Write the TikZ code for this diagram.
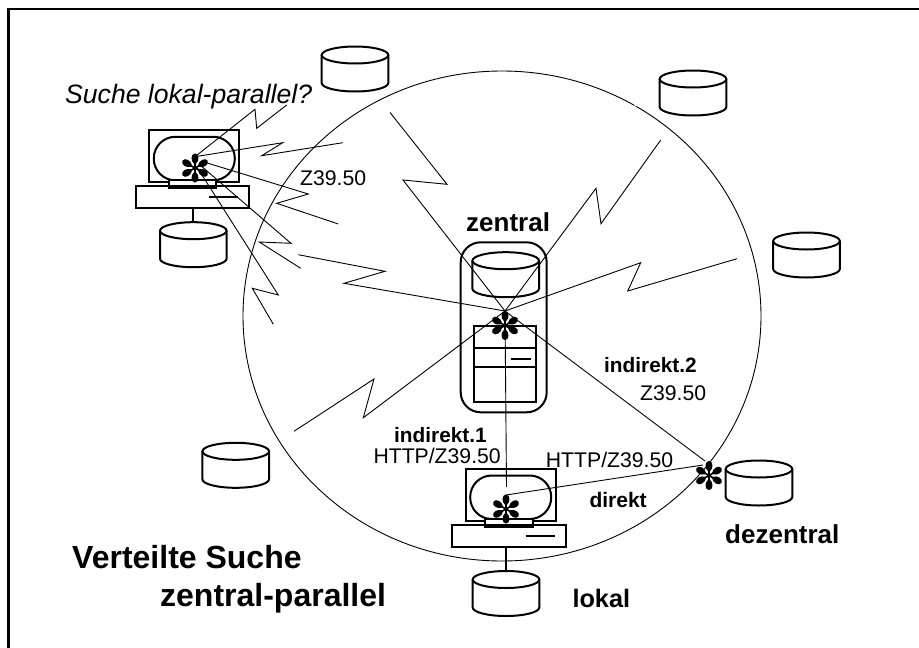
\documentclass[tikz,border=0pt]{standalone}
\usepackage{fontspec}
\setmainfont{Liberation Sans}
\newcommand{\dbcyl}[2]{%
  \draw[thickline] (#1,#2+9) ellipse [x radius=33.3,y radius=8.5];
  \draw[thickline] (#1-33.3,#2+9) -- ++(0,28) arc [start angle=180,end angle=0,x radius=33.3,y radius=8.5] -- (#1+33.3,#2+9);
}
\newcommand{\petalstar}[3]{%
  \coordinate (#1) at (#2,#3);
  \foreach \a in {90,30,-30,-90,-150,150}{
    \fill[black,shift={(#2,#3)},rotate=\a] (0,-0.9) -- (4,-0.8) .. controls (7,-4.4) and (14,-4.6) .. (14.6,0) .. controls (14,4.6) and (7,4.4) .. (4,0.8) -- (0,0.9) -- cycle;
  }
}
\newcommand{\workstation}[2]{%
  \begin{scope}[shift={(#1,#2)}]
    \draw[thickline] (0,0) rectangle (90,52);
    \draw[thickline,rounded corners=21.5] (4.5,6.5) rectangle (85.5,50);
    \draw[thickline,fill=white] (19.5,50) rectangle (67,58);
    \draw[thickline] (-13.5,56) rectangle (100,78);
    \draw[thickline] (60,67) -- (89,67);
  \end{scope}
}
\tikzset{
  thickline/.style={line width=2pt,black},
  thinline/.style={line width=0.9pt,black,line join=miter},
  lbl/.style={anchor=base west,inner sep=0pt,text=black},
  zig/.style={thinline}
}
\begin{document}
\begin{tikzpicture}[x=1pt,y=-1pt]
\useasboundingbox (0,0) rectangle (919,648);
\draw[line width=2.7pt,black] (8.8,648) -- (8.8,9) -- (919,9);

% ring
\draw[thinline] (502,316) ellipse [x radius=259,y radius=245];
\draw[white,line width=1.8pt] (634.5,104.4) -- (636.5,105.8);

% databases
\dbcyl{355}{46}
\dbcyl{693}{70}
\dbcyl{806.5}{232}
\dbcyl{235.7}{442.3}
\dbcyl{759}{460}
\dbcyl{506}{570.5}
\dbcyl{193.3}{221.7}
\dbcyl{505.7}{251.7}

% central server
\draw[thickline,rounded corners=20] (460.7,242.3) rectangle (546.7,412.3);
\draw[thickline] (474,325.7) rectangle (535.7,401.7);
\draw[thickline] (474,348.3) -- (535.7,348.3);
\draw[thickline] (474,366.7) -- (535.7,366.7);
\draw[thickline] (510.7,359) -- (531,359);

% workstations
\workstation{149.3}{130.3}
\draw[thickline] (192.7,208) -- (192.7,222);
\workstation{465.7}{469}
\draw[thickline] (506.3,547) -- (506.3,571);

% stars
\petalstar{starC}{505}{325.5}
\petalstar{starW}{195}{168}
\petalstar{starL}{506}{509}
\petalstar{starD}{709}{475.5}

% anchor points on stars
\coordinate (hub) at (505,311);
\coordinate (hubW) at (195,156.7);
\coordinate (hubWc) at (203,161.7);
\coordinate (hubWd) at (200,165);
\coordinate (hubWe) at (196.7,166.7);
\coordinate (hubL) at (506,495);
\coordinate (hubD) at (703,465);
\coordinate (hubDb) at (705,461);
\coordinate (endV) at (506.5,487);

% central links
\draw[zig] (hub) -- (403,180) -- (447,184.3) -- (390,112.5);
\draw[zig] (hub) -- (596,188.3) -- (601,223.7) -- (660.7,140);
\draw[zig] (hub) -- (640.7,262.7) -- (627.7,291) -- (737,258.7);
\draw[zig] (hub) -- (344,283.3) -- (385,271.3) -- (298.3,254.7);
\draw[zig] (hub) -- (363.3,417.7) -- (374,379) -- (294,431.3);
\draw[zig] (hub) -- (endV);
\draw[zig] (hub) -- (hubDb);
\draw[zig] (hubL) -- (hubD);

% local-parallel links
\draw[zig] (hubW) -- (255,109.3) -- (256.7,128.3) -- (286.7,105);
\draw[zig] (hubW) -- (282.7,142.7) -- (261.7,155.7) -- (342.7,142.7);
\draw[zig] (hubWc) -- (308.3,194) -- (276.7,203.3) -- (338.3,224);
\draw[zig] (hubWd) -- (291,243.3) -- (259.3,242) -- (300.7,268.3);
\draw[zig] (hubWe) -- (278.3,295) -- (252.3,288.3) -- (273.3,324.3);

% labels
\node[lbl,font=\fontsize{26.6}{26.6}\selectfont\itshape] (tLocal) at (65,103) {Suche lokal-parallel?};
\node[lbl,font=\fontsize{21.2}{21.2}\selectfont] (tZa) at (300,185) {Z39.50};
\node[lbl,font=\fontsize{26}{26}\selectfont\bfseries] (tZentral) at (466,231.7) {zentral};
\node[lbl,font=\fontsize{20.8}{20.8}\selectfont\bfseries] (tInd2) at (604,372.3) {indirekt.2};
\node[lbl,font=\fontsize{21.2}{21.2}\selectfont] (tZb) at (640,400.7) {Z39.50};
\node[lbl,font=\fontsize{20.8}{20.8}\selectfont\bfseries] (tInd1) at (394,442.7) {indirekt.1};
\node[lbl,font=\fontsize{21.2}{21.2}\selectfont] (tHa) at (373.3,463.3) {HTTP/Z39.50};
\node[lbl,font=\fontsize{21.2}{21.2}\selectfont] (tHb) at (545.7,467.7) {HTTP/Z39.50};
\node[lbl,font=\fontsize{21}{21}\selectfont\bfseries] (tDirekt) at (589.3,507.3) {direkt};
\node[lbl,font=\fontsize{26}{26}\selectfont\bfseries] (tDez) at (725,543.3) {dezentral};
\node[lbl,font=\fontsize{25.3}{25.3}\selectfont\bfseries] (tLokal) at (572.3,607.3) {lokal};
\node[lbl,font=\fontsize{32}{32}\selectfont\bfseries] (tTitA) at (72,568.3) {Verteilte Suche};
\node[lbl,font=\fontsize{32}{32}\selectfont\bfseries] (tTitB) at (160,606.7) {zentral-parallel};
\end{tikzpicture}
\end{document}
